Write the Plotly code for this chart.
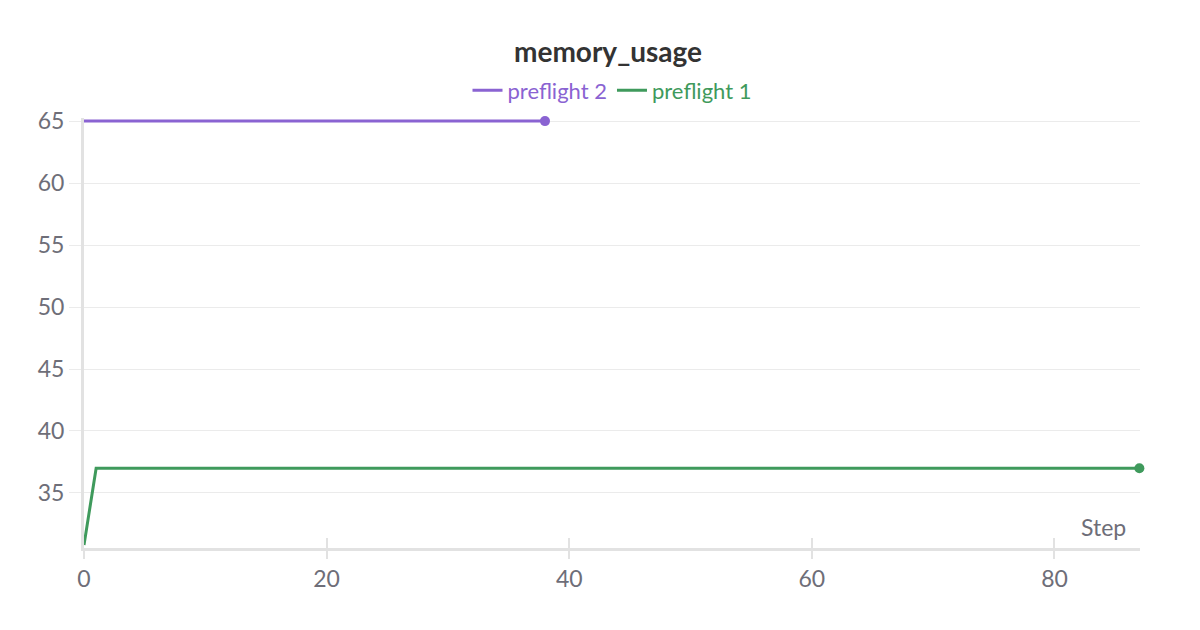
import plotly.graph_objects as go

PURPLE = "#8a63d2"
GREEN = "#3f9a5c"
GRID = "#ebebeb"
AXIS = "#e2e2e2"
TICK_TEXT = "#6e6e78"
FONT = "Lato"

# data
series_names = ["preflight 2", "preflight 1"]
preflight_2_steps = [0, 38]
preflight_2_values = [65, 65]
preflight_1_steps = [0, 1, 87]
preflight_1_values = [30.8, 37, 37]

x_ticks = [0, 20, 40, 60, 80]
y_ticks = [35, 40, 45, 50, 55, 60, 65]

fig = go.Figure()

for name, steps, values, color in [
    (series_names[0], preflight_2_steps, preflight_2_values, PURPLE),
    (series_names[1], preflight_1_steps, preflight_1_values, GREEN),
]:
    fig.add_trace(go.Scatter(
        x=steps,
        y=values,
        mode="lines",
        line=dict(color=color, width=3),
        name=f"<span style='color:{color}'>{name}</span>",
        hovertemplate="%{x}: %{y}<extra></extra>",
    ))
    # dot on the last point only
    fig.add_trace(go.Scatter(
        x=steps[-1:],
        y=values[-1:],
        mode="markers",
        marker=dict(color=color, size=10),
        showlegend=False,
        cliponaxis=False,
        xaxis="x2",
        hoverinfo="skip",
    ))

axis_common = dict(
    showline=True,
    linecolor=AXIS,
    linewidth=3,
    tickfont=dict(family=FONT, size=23, color=TICK_TEXT),
    zeroline=False,
)

fig.update_layout(
    width=1200,
    height=630,
    paper_bgcolor="white",
    plot_bgcolor="white",
    font=dict(family=FONT, color="#333"),
    title=dict(
        text="<b>memory_usage</b>",
        x=0.5, xanchor="center",
        y=1 - 44 / 630, yanchor="middle", yref="container",
        font=dict(family=FONT, size=28, color="#333"),
    ),
    legend=dict(
        orientation="h",
        x=0.5, xanchor="center",
        y=1.064, yanchor="middle",
        font=dict(family=FONT, size=22),
        itemwidth=30,
        bgcolor="rgba(0,0,0,0)",
    ),
    margin=dict(t=110, b=90, l=76, r=68),
    xaxis=dict(
        **axis_common,
        range=[0, 87.05],
        tickvals=x_ticks,
        ticks="outside",
        ticklen=8,
        tickwidth=2,
        tickcolor=AXIS,
        showgrid=False,
    ),
    xaxis2=dict(
        overlaying="x",
        matches="x",
        side="bottom",
        showline=False,
        showgrid=False,
        tickvals=x_ticks,
        ticks="inside",
        ticklen=10,
        tickwidth=2,
        tickcolor=AXIS,
        showticklabels=False,
        zeroline=False,
    ),
    yaxis=dict(
        **axis_common,
        range=[30.56, 65.25],
        tickvals=y_ticks,
        ticks="outside",
        ticklen=12,
        tickwidth=1,
        tickcolor=GRID,
        showgrid=True,
        gridcolor=GRID,
        gridwidth=1,
    ),
    annotations=[dict(
        text="Step",
        xref="paper", yref="paper",
        x=1.0, xanchor="right", xshift=-12,
        y=0.0, yanchor="bottom", yshift=5,
        showarrow=False,
        font=dict(family=FONT, size=23, color=TICK_TEXT),
    )],
    showlegend=True,
)

fig.write_html("out.html")
